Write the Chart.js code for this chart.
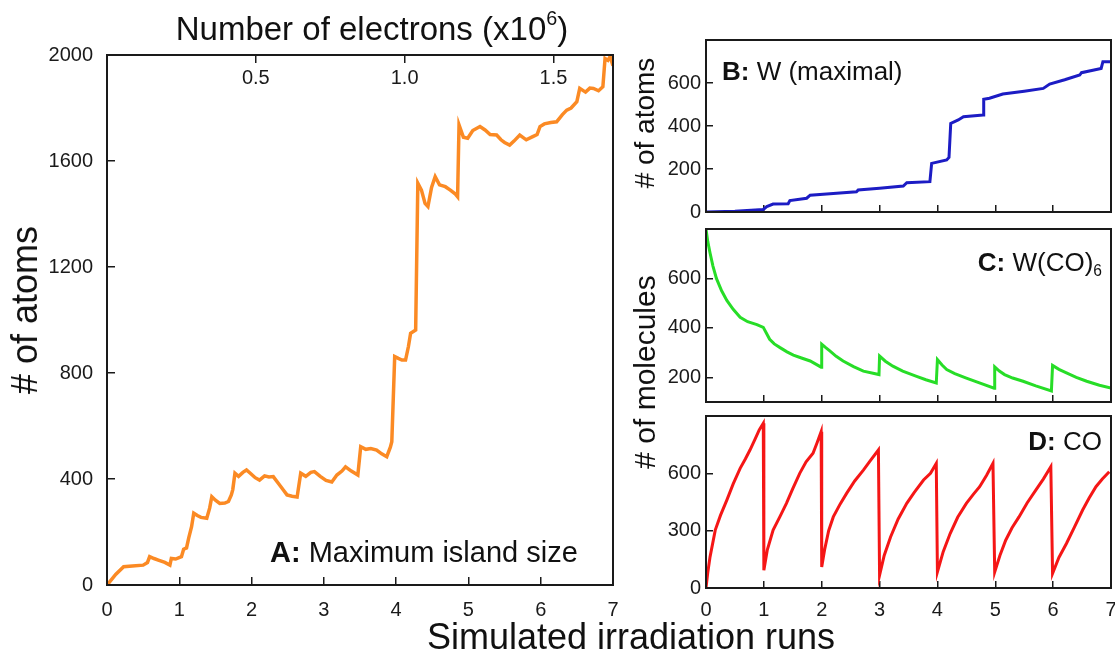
<!DOCTYPE html>
<html>
<head>
<meta charset="utf-8">
<script src="https://cdn.jsdelivr.net/npm/chart.js@4.4.1/dist/chart.umd.min.js"></script>
<style>
    body { margin: 0; background: #fff; }
    #wrap { position: relative; width: 1115px; height: 657px; background: #fff; overflow: hidden;
            font-family: "Liberation Sans", Arial, sans-serif; color: #111; }
    canvas { position: absolute; }
    .txt { position: absolute; line-height: 1; white-space: nowrap; }
    .rot { transform: translate(-50%, -50%) rotate(-90deg); }
    sup { font-size: 0.6em; vertical-align: 0.75em; line-height: 0; }
    sub { font-size: 0.6em; vertical-align: -0.3em; line-height: 0; }
</style>
</head>
<body>
<div id="wrap">
    <canvas id="panelA" width="650" height="630" style="left:0;top:0"></canvas>
    <canvas id="panelB" width="495" height="222" style="left:620px;top:0"></canvas>
    <canvas id="panelC" width="495" height="188" style="left:620px;top:222px"></canvas>
    <canvas id="panelD" width="495" height="247" style="left:620px;top:410px"></canvas>

    <div class="txt" style="left:372px;top:12px;font-size:33px;transform:translateX(-50%)">Number of electrons (x10<sup>6</sup>)</div>
    <div class="txt" style="left:631px;top:619px;font-size:36px;transform:translateX(-50%)">Simulated irradiation runs</div>
    <div class="txt rot" style="left:25px;top:310px;font-size:36px">#&nbsp;of atoms</div>
    <div class="txt rot" style="left:645px;top:123px;font-size:28px">#&nbsp;of atoms</div>
    <div class="txt rot" style="left:645px;top:372px;font-size:30px">#&nbsp;of molecules</div>

    <div class="txt" style="left:270px;top:538px;font-size:29px"><b>A:</b> Maximum island size</div>
    <div class="txt" style="left:722px;top:58px;font-size:26px"><b>B:</b> W (maximal)</div>
    <div class="txt" style="right:13px;top:249px;font-size:26px"><b>C:</b> W(CO)<sub>6</sub></div>
    <div class="txt" style="right:13px;top:428px;font-size:26px"><b>D:</b> CO</div>
</div>
<script>
// A: maximum island size (runs, # of atoms)
const runsA = [0.00, 0.02, 0.12, 0.23, 0.35, 0.50, 0.56, 0.59, 0.65, 0.71, 0.80, 0.87, 0.89, 0.95, 1.03,
    1.06, 1.10, 1.13, 1.17, 1.20, 1.25, 1.30, 1.38, 1.42, 1.45, 1.50, 1.56, 1.63, 1.68, 1.72, 1.74, 1.77,
    1.82, 1.88, 1.93, 1.99, 2.05, 2.11, 2.18, 2.24, 2.30, 2.38, 2.45, 2.49, 2.56, 2.63, 2.68, 2.75, 2.82,
    2.87, 2.95, 3.03, 3.11, 3.18, 3.25, 3.30, 3.38, 3.47, 3.51, 3.58, 3.65, 3.73, 3.80, 3.87, 3.92, 3.94,
    3.98, 4.03, 4.08, 4.13, 4.17, 4.20, 4.27, 4.30, 4.35, 4.40, 4.44, 4.49, 4.54, 4.60, 4.68, 4.75, 4.82,
    4.85, 4.87, 4.93, 4.99, 5.06, 5.16, 5.23, 5.30, 5.39, 5.45, 5.50, 5.57, 5.63, 5.71, 5.80, 5.89, 5.95,
    5.99, 6.05, 6.14, 6.22, 6.30, 6.36, 6.42, 6.50, 6.54, 6.62, 6.68, 6.73, 6.80, 6.86, 6.89, 6.93, 6.96, 7.00];
const atomsA = [0, 6, 40, 69, 72, 75, 85, 107, 100, 94, 85, 75, 100, 98, 107,
    135, 140, 177, 220, 271, 262, 255, 252, 290, 333, 320, 308, 309, 315, 340, 360, 422,
    410, 425, 434, 420, 405, 396, 412, 408, 409, 380, 355, 340, 335, 332, 422, 410, 425,
    428, 410, 395, 389, 415, 430, 446, 430, 415, 522, 512, 515, 509, 495, 484, 520, 541,
    862, 855, 849, 849, 900, 950, 962, 1516, 1490, 1440, 1428, 1500, 1541, 1510, 1503, 1490, 1475,
    1465, 1736, 1690, 1686, 1715, 1730, 1717, 1700, 1698, 1680, 1670, 1660, 1675, 1698, 1680, 1692, 1700,
    1730, 1740, 1745, 1748, 1775, 1792, 1800, 1824, 1874, 1860, 1875, 1874, 1865, 1880, 1987, 1980, 1994, 1960];

// B: W (maximal)
const runsB = [0, 0.5, 0.99, 1.05, 1.16, 1.42, 1.45, 1.74, 1.80, 2.20, 2.60, 2.63, 3.00, 3.41, 3.47, 3.87,
    3.90, 4.16, 4.20, 4.23, 4.36, 4.45, 4.79, 4.80, 4.90, 5.13, 5.50, 5.83, 5.94, 6.20, 6.46, 6.49, 6.83, 6.86, 7.00];
const atomsB = [0, 4, 12, 25, 37, 38, 53, 64, 78, 86, 94, 102, 110, 121, 136, 141,
    226, 242, 254, 412, 428, 443, 451, 524, 529, 549, 562, 575, 595, 615, 637, 648, 668, 699, 699];

// C: W(CO)6
const runsC = [0.00, 0.03, 0.07, 0.12, 0.18, 0.27, 0.36, 0.47, 0.59, 0.72, 0.88, 0.99, 1.04, 1.10, 1.18,
    1.28, 1.40, 1.51, 1.65, 1.80, 1.99, 2.00, 2.07, 2.14, 2.25, 2.37, 2.55, 2.72, 2.99, 3.00, 3.10, 3.23,
    3.40, 3.64, 3.80, 3.98, 4.00, 4.08, 4.16, 4.30, 4.50, 4.75, 4.98, 4.99, 5.07, 5.16, 5.30, 5.48, 5.70,
    5.97, 5.99, 6.10, 6.23, 6.40, 6.58, 6.80, 7.00];
const moleculesC = [800, 750, 703, 650, 600, 550, 511, 475, 443, 425, 413, 402, 380, 354, 335,
    320, 303, 290, 278, 266, 241, 334, 320, 307, 285, 266, 243, 225, 211, 286, 265, 245,
    225, 204, 190, 177, 272, 250, 231, 215, 197, 175, 156, 242, 225, 211, 197, 184, 165,
    145, 248, 232, 218, 200, 184, 168, 156];

// D: CO
const runsD = [0.00, 0.03, 0.07, 0.16, 0.25, 0.36, 0.47, 0.59, 0.68, 0.76, 0.85, 0.92, 0.99,
    1.00, 1.06, 1.16, 1.28, 1.39, 1.50, 1.62, 1.73, 1.85, 1.92, 1.99,
    2.00, 2.05, 2.12, 2.20, 2.32, 2.43, 2.57, 2.72, 2.85, 2.98,
    3.00, 3.08, 3.19, 3.32, 3.47, 3.60, 3.76, 3.88, 3.98,
    4.00, 4.10, 4.22, 4.35, 4.50, 4.62, 4.73, 4.85, 4.96,
    4.99, 5.08, 5.18, 5.29, 5.41, 5.55, 5.70, 5.83, 5.96,
    5.99, 6.10, 6.23, 6.37, 6.51, 6.62, 6.74, 6.85, 6.97];
const moleculesD = [0, 80, 163, 303, 380, 460, 545, 626, 675, 722, 780, 827, 862,
    93, 200, 303, 375, 443, 520, 600, 660, 705, 760, 818,
    110, 200, 300, 372, 440, 495, 560, 617, 670, 722,
    67, 170, 267, 360, 443, 500, 565, 600, 652,
    84, 190, 285, 370, 443, 490, 530, 590, 652,
    84, 170, 250, 315, 372, 445, 512, 570, 635,
    76, 160, 233, 320, 408, 470, 530, 570, 608];

// tick labels
const runTicks = [0, 1, 2, 3, 4, 5, 6, 7];
const electronTicks = [0.5, 1.0, 1.5];
const ticksA = [0, 400, 800, 1200, 1600, 2000];
const ticksB = [0, 200, 400, 600];
const ticksC = [200, 400, 600];
const ticksD = [0, 300, 600];

Chart.defaults.font.family = "'Liberation Sans', Arial, sans-serif";
Chart.defaults.color = "#1a1a1a";

const tickFont = { size: 20 };

const framePlugin = {
    id: "frame",
    afterDraw(chart) {
        const { ctx, chartArea: a } = chart;
        ctx.save();
        ctx.strokeStyle = "#1a1a1a";
        ctx.lineWidth = 2;
        ctx.strokeRect(a.left, a.top, a.right - a.left, a.bottom - a.top);
        ctx.restore();
    }
};

function points(xs, ys) {
    return xs.map((x, i) => ({ x: x, y: ys[i] }));
}

function fixedTicks(values) {
    return (scale) => { scale.ticks = values.map(v => ({ value: v })); };
}

function axis(opts) {
    return {
        type: "linear",
        position: opts.position,
        min: opts.min,
        max: opts.max,
        afterBuildTicks: fixedTicks(opts.ticks),
        grid: {
            drawOnChartArea: false,
            drawTicks: true,
            tickLength: -opts.tick,
            color: "#1a1a1a",
            lineWidth: 1.5,
        },
        border: { display: false },
        ticks: {
            display: opts.labels !== false,
            mirror: !!opts.mirror,
            padding: opts.padding,
            font: tickFont,
            autoSkip: false,
            maxRotation: 0,
            callback: opts.format || (v => v),
        },
        afterFit: (s) => {
            // fixed box sizes so the plot areas land where the reference has them
            if (opts.width !== undefined) s.width = opts.width;
            if (opts.height !== undefined) s.height = opts.height;
            s.paddingTop = 0;
            s.paddingBottom = 0;
            s.paddingLeft = 0;
            s.paddingRight = 0;
        },
    };
}

function makePanel(canvasId, data, color, lineWidth, scales, padding) {
    return new Chart(document.getElementById(canvasId), {
        type: "line",
        data: {
            datasets: [{
                data: data,
                borderColor: color,
                borderWidth: lineWidth,
                pointRadius: 0,
                tension: 0,
                fill: false,
            }]
        },
        options: {
            responsive: false,
            animation: false,
            layout: { padding: padding },
            plugins: { legend: { display: false }, tooltip: { enabled: false } },
            scales: scales,
        },
        plugins: [framePlugin],
    });
}

makePanel("panelA", points(runsA, atomsA), "#fb8a24", 3.5, {
    x: axis({ position: "bottom", min: 0, max: 7, ticks: runTicks, tick: 8, padding: 21, height: 45 }),
    x2: axis({ position: "top", min: 0, max: 1.7, ticks: electronTicks, tick: 8, padding: 11, height: 55,
        mirror: true, format: v => v.toFixed(1) }),
    y: axis({ position: "left", min: 0, max: 2000, ticks: ticksA, tick: 8, padding: 22, width: 107 }),
}, { right: 37 });

makePanel("panelB", points(runsB, atomsB), "#1c1cc4", 3, {
    x: axis({ position: "bottom", min: 0, max: 7, ticks: runTicks, tick: 7, padding: 17, height: 10, labels: false }),
    y: axis({ position: "left", min: 0, max: 800, ticks: ticksB, tick: 7, padding: 12, width: 86 }),
}, { top: 40, right: 4 });

makePanel("panelC", points(runsC, moleculesC), "#27dd27", 3, {
    x: axis({ position: "bottom", min: 0, max: 7, ticks: runTicks, tick: 7, padding: 17, height: 8, labels: false }),
    y: axis({ position: "left", min: 100, max: 800, ticks: ticksC, tick: 7, padding: 12, width: 86 }),
}, { top: 7, right: 4 });

makePanel("panelD", points(runsD, moleculesD), "#f51616", 3, {
    x: axis({ position: "bottom", min: 0, max: 7, ticks: runTicks, tick: 7, padding: 17, height: 69 }),
    y: axis({ position: "left", min: 0, max: 900, ticks: ticksD, tick: 7, padding: 12, width: 86 }),
}, { top: 6, right: 4 });
</script>
</body>
</html>
